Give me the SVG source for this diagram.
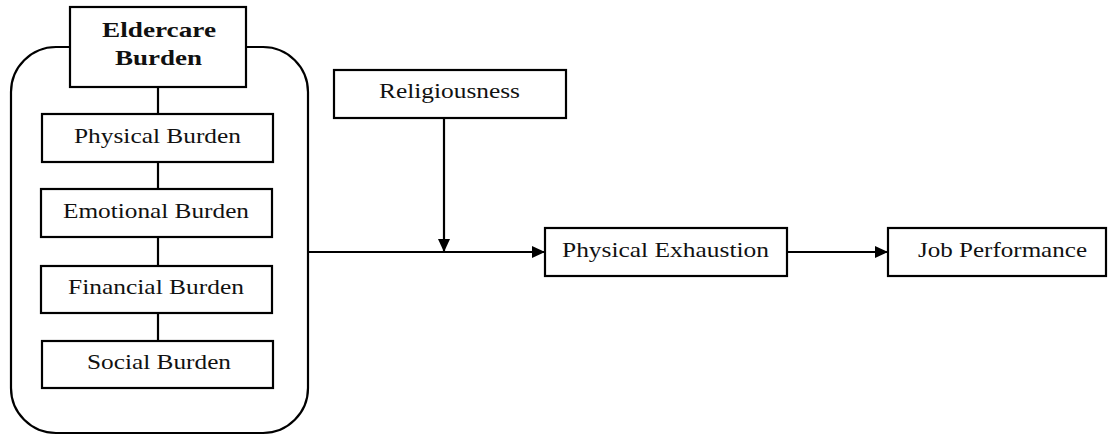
<svg xmlns="http://www.w3.org/2000/svg" width="1108" height="435" viewBox="0 0 1108 435">
<defs>
<style>
.box{fill:#fff;stroke:#000;stroke-width:2.2}
.cont{fill:none;stroke:#000;stroke-width:2.2}
.ln{fill:none;stroke:#000;stroke-width:2.2}
text{font-family:'Liberation Serif',serif;font-size:21px;fill:#111;text-anchor:middle}
.tb{font-weight:bold}
</style>
<marker id="arr" markerUnits="userSpaceOnUse" markerWidth="14" markerHeight="14" refX="13" refY="7" orient="auto">
<path d="M0,1 L13,7 L0,13 z" fill="#000"/>
</marker>
</defs>
<rect x="0" y="0" width="1108" height="435" fill="#fff"/>
<g id="container">
<rect class="cont" x="11" y="47" width="297" height="386" rx="45" ry="45"/>
</g>
<g id="connectors">
<line class="ln" x1="158" y1="87" x2="158" y2="114"/>
<line class="ln" x1="158" y1="162" x2="158" y2="189"/>
<line class="ln" x1="158" y1="237" x2="158" y2="266"/>
<line class="ln" x1="158" y1="313" x2="158" y2="341"/>
<line class="ln" x1="308" y1="252" x2="545" y2="252" marker-end="url(#arr)"/>
<line class="ln" x1="444" y1="118" x2="444" y2="252" marker-end="url(#arr)"/>
<line class="ln" x1="787" y1="252" x2="888" y2="252" marker-end="url(#arr)"/>
</g>
<g id="eldercare">
<rect class="box" x="70" y="7" width="176" height="80"/>
<text class="tb" x="159" y="37" textLength="114" lengthAdjust="spacingAndGlyphs">Eldercare</text>
<text class="tb" x="158.5" y="65" textLength="87" lengthAdjust="spacingAndGlyphs">Burden</text>
</g>
<g id="physical">
<rect class="box" x="42" y="114" width="231" height="48"/>
<text x="157.5" y="143" textLength="167" lengthAdjust="spacingAndGlyphs">Physical Burden</text>
</g>
<g id="emotional">
<rect class="box" x="41" y="189" width="231" height="48"/>
<text x="156" y="218" textLength="186" lengthAdjust="spacingAndGlyphs">Emotional Burden</text>
</g>
<g id="financial">
<rect class="box" x="41" y="266" width="231" height="47"/>
<text x="156" y="294" textLength="176" lengthAdjust="spacingAndGlyphs">Financial Burden</text>
</g>
<g id="social">
<rect class="box" x="42" y="341" width="231" height="47"/>
<text x="159" y="369" textLength="144" lengthAdjust="spacingAndGlyphs">Social Burden</text>
</g>
<g id="religiousness">
<rect class="box" x="334" y="70" width="232" height="48"/>
<text x="449.5" y="98" textLength="141" lengthAdjust="spacingAndGlyphs">Religiousness</text>
</g>
<g id="exhaustion">
<rect class="box" x="545" y="228" width="242" height="48"/>
<text x="665.5" y="257" textLength="207" lengthAdjust="spacingAndGlyphs">Physical Exhaustion</text>
</g>
<g id="jobperformance">
<rect class="box" x="888" y="228" width="218" height="48"/>
<text x="1002.5" y="257" textLength="169" lengthAdjust="spacingAndGlyphs">Job Performance</text>
</g>
</svg>
